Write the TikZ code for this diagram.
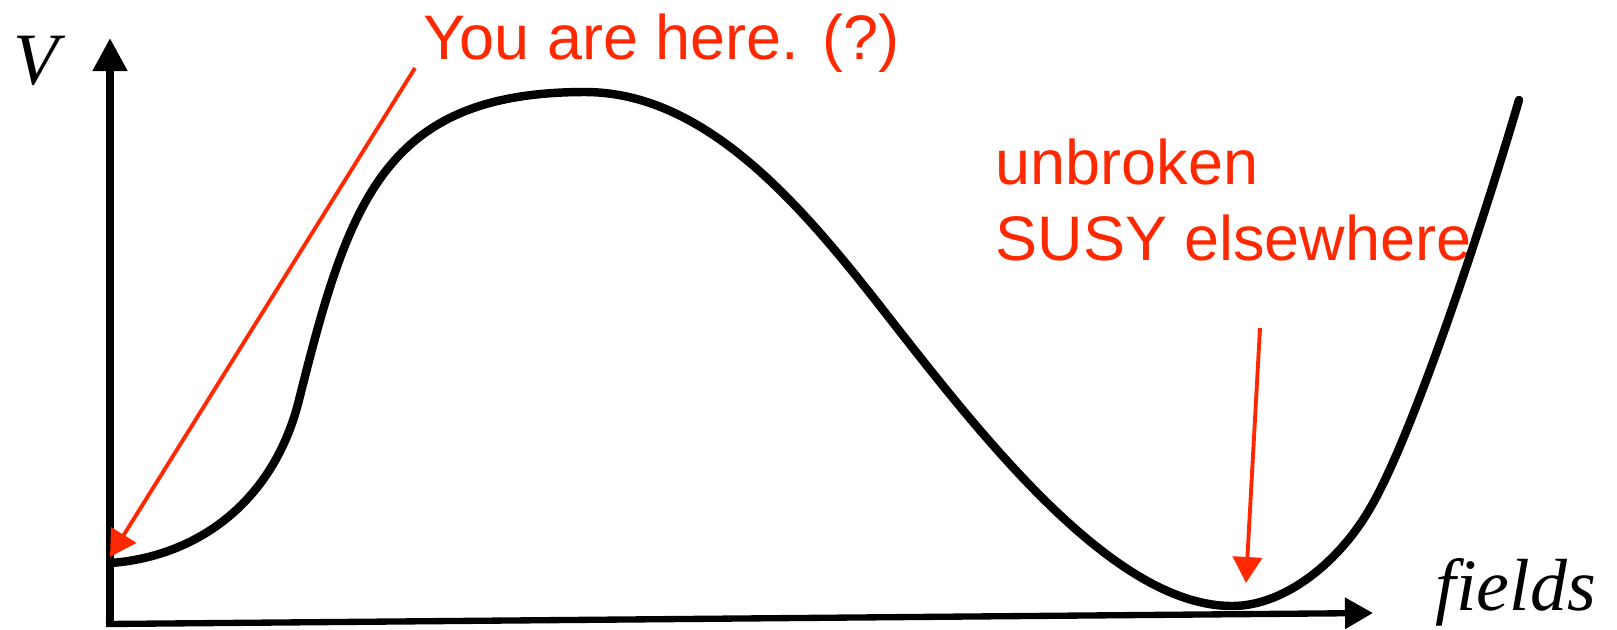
\documentclass[tikz,border=0pt]{standalone}
\usepackage{fontspec}
\setmainfont{Liberation Serif}
\newfontfamily\notefont{Liberation Sans}
\usetikzlibrary{arrows.meta, positioning}
\definecolor{notered}{RGB}{255,40,0}

\begin{document}
\begin{tikzpicture}[
    x=0.01cm, y=-0.01cm,
    axislabel/.style={inner sep=0pt, font=\fontsize{21}{25}\selectfont\itshape},
    note/.style={inner sep=0pt, text=notered, align=left, font=\notefont\fontsize{17.9}{21.6}\selectfont},
    axis/.style={line width=2.2pt},
    pointer/.style={-{Triangle[length=0.26cm, width=0.29cm]}, draw=notered, fill=notered, line width=1.1pt},
    potential/.style={line width=2.4pt, line join=round, line cap=round}
]
\useasboundingbox (0,0) rectangle (1617,629);

% Axes
\coordinate (origin) at (110,625);
\coordinate (vtip) at (110,38);
\coordinate (htip) at (1373,613);
\draw[axis, -{Triangle[length=0.33cm, width=0.33cm]}] (origin) -- (vtip);
\draw[axis, line width=1.8pt, -{Triangle[length=0.28cm, width=0.30cm]}] (106,624) -- (htip);

% Nodes
\node[axislabel, anchor=base west] (vlabel) at (13,84) {V};
\node[axislabel, anchor=base west] (fieldslabel) at (1435,610) {fields};
\node[note, anchor=base west] (here) at (423,59) {You are here. (?)};
\node[note, anchor=north west] (susy) at (995,138) {unbroken\\SUSY elsewhere};

% Potential
\draw[potential] (111,563)
    .. controls (200,556) and (274,500) .. (299,400)
    .. controls (349,200) and (385,92) .. (585,92)
    .. controls (705,92) and (800,204) .. (880,306)
    .. controls (980,434) and (1112,606) .. (1232,606)
    .. controls (1285,606) and (1340,562) .. (1372,505)
    .. controls (1412,435) and (1479,236) .. (1519,100);

% Connections
\coordinate (hereTail) at (415,68);
\coordinate (hereTip) at (110,557);
\coordinate (susyTail) at (1260,328);
\coordinate (susyTip) at (1246,583);
\draw[pointer] (hereTail) -- (hereTip);
\draw[pointer] (susyTail) -- (susyTip);

\end{tikzpicture}
\end{document}
